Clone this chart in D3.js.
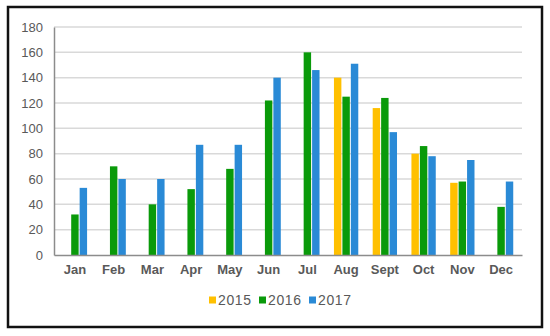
<!DOCTYPE html>
<html>
<head>
<meta charset="utf-8">
<script src="https://cdn.jsdelivr.net/npm/d3@7/dist/d3.min.js"></script>
<style>
	body { margin: 0; background: #fff; }
	text { font-family: "Liberation Sans", Arial, sans-serif; }
</style>
</head>
<body>
<div id="chart"></div>
<script>
// chart data
const months = ['Jan', 'Feb', 'Mar', 'Apr', 'May', 'Jun', 'Jul', 'Aug', 'Sept', 'Oct', 'Nov', 'Dec'];
const years = ['2015', '2016', '2017'];
const values2015 = [null, null, null, null, null, null, null, 140, 116, 80, 57, null];
const values2016 = [32, 70, 40, 52, 68, 122, 160, 125, 124, 86, 58, 38];
const values2017 = [53, 60, 60, 87, 87, 140, 146, 151, 97, 78, 75, 58];
const yTicks = [0, 20, 40, 60, 80, 100, 120, 140, 160, 180];

const colors = {'2015': '#ffc000', '2016': '#0a9a0a', '2017': '#2a8ad6'};
const seriesValues = {'2015': values2015, '2016': values2016, '2017': values2017};

const width = 550;
const height = 336;
const margin = {top: 27, right: 28, bottom: 81, left: 54};

const svg = d3
	.select('#chart')
	.append('svg')
	.attr('width', width)
	.attr('height', height);

// outer frame
svg.append('rect')
	.attr('x', 8)
	.attr('y', 7)
	.attr('width', 534)
	.attr('height', 320)
	.attr('fill', '#fff')
	.attr('stroke', '#111')
	.attr('stroke-width', 2.5);

const x0 = d3
	.scaleBand()
	.domain(months)
	.range([margin.left, width - margin.right])
	.paddingInner(0.32)
	.paddingOuter(0.2);

const x1 = d3
	.scaleBand()
	.domain(years)
	.range([0, x0.bandwidth()])
	.padding(0.12);

const y = d3
	.scaleLinear()
	.domain([0, 180])
	.range([height - margin.bottom, margin.top]);

// gridlines
svg.append('g')
	.selectAll('line')
	.data(yTicks.filter(t => t > 0))
	.enter()
	.append('line')
	.attr('x1', margin.left)
	.attr('x2', width - margin.right)
	.attr('y1', d => y(d))
	.attr('y2', d => y(d))
	.attr('stroke', '#d9d9d9')
	.attr('stroke-width', 1.5);

// y axis
const yAxis = svg.append('g')
	.attr('transform', `translate(${margin.left},0)`)
	.call(d3.axisLeft(y).tickValues(yTicks).tickSize(0).tickPadding(11));
yAxis.select('.domain').attr('stroke', '#8c8c8c').attr('stroke-width', 1.5);
yAxis.selectAll('text')
	.attr('fill', '#595959')
	.style('font-size', '13px');

// bars
const groups = svg.append('g')
	.selectAll('g')
	.data(months)
	.enter()
	.append('g')
	.attr('transform', d => `translate(${x0(d)},0)`);

groups.selectAll('rect')
	.data((m, i) => years
		.map(yr => ({year: yr, value: seriesValues[yr][i]}))
		.filter(d => d.value !== null))
	.enter()
	.append('rect')
	.attr('x', d => x1(d.year))
	.attr('width', x1.bandwidth())
	.attr('y', d => y(d.value))
	.attr('height', d => y(0) - y(d.value))
	.attr('fill', d => colors[d.year]);

// x axis
const xAxis = svg.append('g')
	.attr('transform', `translate(0,${height - margin.bottom})`)
	.call(d3.axisBottom(x0).tickSize(0).tickPadding(10));
xAxis.select('.domain').attr('stroke', '#8c8c8c').attr('stroke-width', 1.5);
xAxis.selectAll('text')
	.attr('fill', '#595959')
	.style('font-size', '13px')
	.style('font-weight', 'bold');

// legend
const legendX = [209, 259, 309];
const legend = svg.append('g')
	.selectAll('g')
	.data(years)
	.enter()
	.append('g')
	.attr('transform', (d, i) => `translate(${legendX[i]},300)`);

legend.append('rect')
	.attr('x', 0)
	.attr('y', -3.5)
	.attr('width', 7)
	.attr('height', 7)
	.attr('fill', d => colors[d]);

legend.append('text')
	.attr('x', 9)
	.attr('y', 0)
	.attr('dy', '0.35em')
	.attr('fill', '#595959')
	.style('font-size', '14px')
	.style('letter-spacing', '0.6px')
	.text(d => d);
</script>
</body>
</html>
